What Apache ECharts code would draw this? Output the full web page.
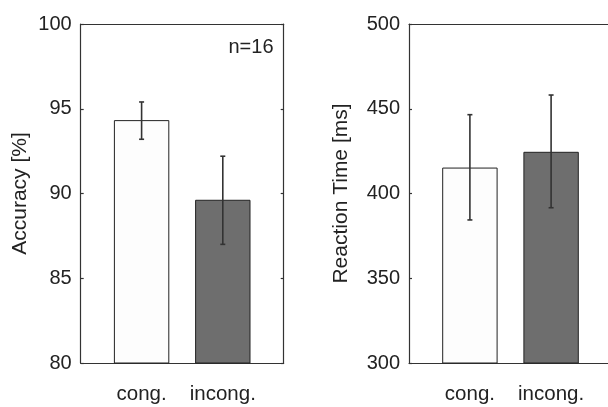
<!DOCTYPE html>
<html>
<head>
<meta charset="utf-8">
<script src="https://cdn.jsdelivr.net/npm/echarts@6/dist/echarts.min.js"></script>
<style>
  html, body { margin: 0; padding: 0; background: #fff; }
  #chart { width: 608px; height: 407px; }
</style>
</head>
<body>
<div id="chart"></div>
<script>
// conditions
var categories = ['cong.', 'incong.'];
var catPos = [1, 2];

// accuracy [%], mean and error bar ends
var accMean = [94.3, 89.6];
var accLow = [93.2, 87.0];
var accHigh = [95.4, 92.2];

// reaction time [ms]
var rtMean = [415, 424.3];
var rtLow = [384.4, 391.6];
var rtHigh = [446.5, 458.1];

var barColors = ['#fdfdfd', '#6e6e6e'];
var FONT = '"Liberation Sans", Arial, Helvetica, sans-serif';
var BAR_W = 0.67;

function barSeries(idx, mean, bottom) {
    return {
        type: 'custom',
        xAxisIndex: idx,
        yAxisIndex: idx,
        data: mean.map(function (v, i) { return [catPos[i], v, i]; }),
        renderItem: function (params, api) {
            var x = api.value(0);
            var p0 = api.coord([x - BAR_W / 2, api.value(1)]);
            var p1 = api.coord([x + BAR_W / 2, bottom]);
            return {
                type: 'rect',
                shape: {x: p0[0], y: p0[1], width: p1[0] - p0[0], height: p1[1] - p0[1]},
                style: {fill: barColors[api.value(2)], stroke: '#222', lineWidth: 1}
            };
        },
        z: 2
    };
}

function errSeries(idx, low, high) {
    return {
        type: 'custom',
        xAxisIndex: idx,
        yAxisIndex: idx,
        data: low.map(function (v, i) { return [catPos[i], v, high[i]]; }),
        renderItem: function (params, api) {
            var a = api.coord([api.value(0), api.value(1)]);
            var b = api.coord([api.value(0), api.value(2)]);
            var st = {stroke: '#333', lineWidth: 1.6};
            return {
                type: 'group',
                children: [
                    {type: 'line', shape: {x1: a[0], y1: a[1], x2: b[0], y2: b[1]}, style: st},
                    {type: 'line', shape: {x1: a[0] - 2.5, y1: a[1], x2: a[0] + 2.5, y2: a[1]}, style: st},
                    {type: 'line', shape: {x1: b[0] - 2.5, y1: b[1], x2: b[0] + 2.5, y2: b[1]}, style: st}
                ]
            };
        },
        z: 3
    };
}

var lineStyle = {color: '#333', width: 1.2};

function xAxes(idx) {
    return [{
        type: 'value', gridIndex: idx, min: 0.25, max: 2.75, position: 'bottom',
        splitLine: {show: false},
        axisLine: {show: true, lineStyle: lineStyle},
        axisTick: {show: false},
        axisLabel: {
            customValues: catPos, margin: 21,
            color: '#222', fontSize: 20.5, fontFamily: FONT,
            formatter: function (v) { return categories[catPos.indexOf(v)] || ''; }
        }
    }, {
        type: 'value', gridIndex: idx, min: 0.25, max: 2.75, position: 'top',
        splitLine: {show: false},
        axisLine: {show: true, onZero: false, lineStyle: lineStyle},
        axisTick: {show: false},
        axisLabel: {show: false}
    }];
}

function yAxes(idx, min, max, step, name, gap) {
    return [{
        type: 'value', gridIndex: idx, min: min, max: max, interval: step, position: 'left',
        name: name, nameLocation: 'middle', nameRotate: 90, nameGap: gap,
        nameTextStyle: {color: '#222', fontSize: 21, fontFamily: FONT},
        splitLine: {show: false},
        axisLine: {show: true, onZero: false, lineStyle: lineStyle},
        axisTick: {show: true, inside: true, length: 3, lineStyle: lineStyle},
        axisLabel: {color: '#222', fontSize: 20, fontFamily: FONT, margin: 9}
    }, {
        type: 'value', gridIndex: idx, min: min, max: max, interval: step, position: 'right',
        splitLine: {show: false},
        axisLine: {show: true, onZero: false, lineStyle: lineStyle},
        axisTick: {show: true, inside: true, length: 3, lineStyle: lineStyle},
        axisLabel: {show: false}
    }];
}

var xs = xAxes(0).concat(xAxes(1));
var ys = yAxes(0, 80, 100, 5, 'Accuracy [%]', 50)
    .concat(yAxes(1, 300, 500, 50, 'Reaction Time [ms]', 57));

// series use axis indices 0 and 2 (bottom/left axes of each grid)
function remap(s, idx) { s.xAxisIndex = idx * 2; s.yAxisIndex = idx * 2; return s; }

var chart = echarts.init(document.getElementById('chart'), null, {renderer: 'canvas'});
chart.setOption({
    animation: false,
    backgroundColor: '#fff',
    grid: [
        {left: 80.7, top: 24, width: 203, height: 339, outerBoundsMode: 'none'},
        // right panel runs past the window edge, as in the original figure
        {left: 409, top: 24, width: 203, height: 339, outerBoundsMode: 'none'}
    ],
    xAxis: xs,
    yAxis: ys,
    graphic: [{
        type: 'text', right: 608 - 273.5, top: 37,
        style: {text: 'n=16', fill: '#222', fontSize: 20, fontFamily: FONT}
    }],
    series: [
        remap(barSeries(0, accMean, 80), 0),
        remap(errSeries(0, accLow, accHigh), 0),
        remap(barSeries(1, rtMean, 300), 1),
        remap(errSeries(1, rtLow, rtHigh), 1)
    ]
});
</script>
</body>
</html>
